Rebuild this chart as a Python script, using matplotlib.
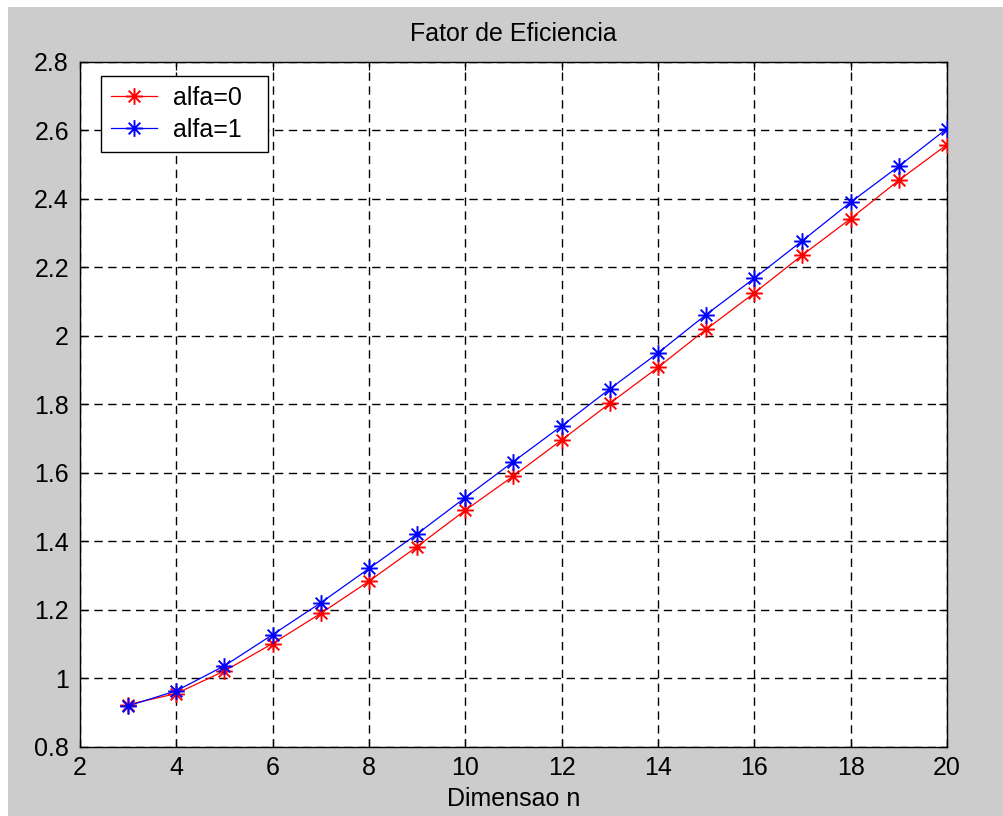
import matplotlib
matplotlib.use("Agg")
import matplotlib.pyplot as plt
from matplotlib.path import Path
from matplotlib.patches import Rectangle
from matplotlib.ticker import FuncFormatter

# --- data ---
dimensao = [3, 4, 5, 6, 7, 8, 9, 10, 11, 12, 13, 14, 15, 16, 17, 18, 19, 20]
alfa0 = [0.924, 0.956, 1.022, 1.102, 1.190, 1.284, 1.385, 1.491, 1.591,
         1.696, 1.803, 1.908, 2.019, 2.125, 2.236, 2.342, 2.454, 2.558]
alfa1 = [0.920, 0.964, 1.037, 1.128, 1.221, 1.321, 1.422, 1.528, 1.633,
         1.737, 1.845, 1.950, 2.062, 2.168, 2.278, 2.390, 2.495, 2.605]
x_ticks = [2, 4, 6, 8, 10, 12, 14, 16, 18, 20]
y_ticks = [0.8, 1.0, 1.2, 1.4, 1.6, 1.8, 2.0, 2.2, 2.4, 2.6, 2.8]

plt.rcParams["font.family"] = ["Liberation Sans", "DejaVu Sans"]
plt.rcParams["font.size"] = 18

# matlab style asterisk marker (+ and x on top of each other)
M, L = Path.MOVETO, Path.LINETO
d = 0.7
asterisco = Path(
    [(-1, 0), (1, 0), (0, -1), (0, 1), (-d, -d), (d, d), (-d, d), (d, -d)],
    [M, L, M, L, M, L, M, L],
)

fig = plt.figure(figsize=(10.04, 8.16), dpi=100, facecolor="white")
# gray window area (thin white strip at top and left like the screenshot)
fig.patches.append(Rectangle((8 / 1004, 0), 1, 1 - 7 / 816, transform=fig.transFigure,
                             facecolor="#cccccc", edgecolor="none", zorder=-10))

ax = fig.add_axes([80 / 1004, 69 / 816, 867 / 1004, 685.3 / 816])
ax.set_facecolor("white")

ax.plot(dimensao, alfa0, color="red", lw=0.9, marker=asterisco, ms=12,
        mew=1.4, mfc="none", label="alfa=0", zorder=3)
ax.plot(dimensao, alfa1, color="blue", lw=0.9, marker=asterisco, ms=12,
        mew=1.4, mfc="none", label="alfa=1", zorder=3)

ax.set_xlim(2, 20)
ax.set_ylim(0.8, 2.8)
ax.set_xticks(x_ticks)
ax.set_yticks(y_ticks)
ax.yaxis.set_major_formatter(FuncFormatter(lambda v, p: "%g" % v))

ax.grid(True, color="black", linestyle=(0, (6, 4)), linewidth=1.0, zorder=1)
ax.tick_params(direction="in", top=True, right=True, length=6, width=0.9)
ax.tick_params(axis="x", pad=6.5)
ax.tick_params(axis="y", pad=8)
for s in ax.spines.values():
    s.set_linewidth(1.0)
    s.set_color("black")

ax.set_title("Fator de Eficiencia", fontsize=18, pad=15)
ax.set_xlabel("Dimensao n", labelpad=5)

leg = ax.legend(loc="upper left", bbox_to_anchor=(0.0239, 0.5, 0.1926, 0.479),
                mode="expand", borderaxespad=0,
                fancybox=False, framealpha=1, edgecolor="black",
                handlelength=1.85, handletextpad=0.65, labelspacing=0.3,
                borderpad=0.4)
leg.get_frame().set_linewidth(1.0)

fig.savefig("out.png", dpi=100, facecolor=fig.get_facecolor())
